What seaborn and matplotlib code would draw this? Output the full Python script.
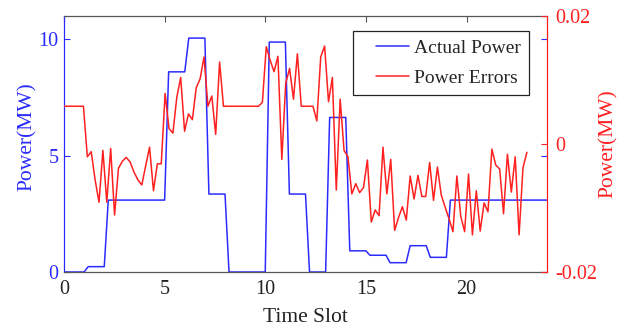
import numpy as np
import pandas as pd
import matplotlib
matplotlib.use("Agg")
import matplotlib.pyplot as plt
import seaborn as sns
from matplotlib.legend_handler import HandlerLine2D
from matplotlib.lines import Line2D

# Hourly actual power (MW); each value holds for its one-hour time slot
actual_power_hourly = [0.0, 0.23, 3.09, 3.09, 3.09, 8.60, 10.05, 3.35, 0.0, 0.0,
                       9.88, 3.35, 0.0, 6.64, 0.91, 0.72, 0.40, 1.13, 0.63, 3.09,
                       3.09, 3.09, 3.09, 3.09]

# Power error readings (MW), 120 samples spread over slots 0-23
power_errors = [
    0.0059, 0.0059, 0.0059, 0.0059, 0.0059, 0.0059, -0.0020, -0.0012, -0.0056, -0.0091,
    -0.0010, -0.0091, -0.0007, -0.0111, -0.0038, -0.0027, -0.0021, -0.0028, -0.0044, -0.0056,
    -0.0064, -0.0034, -0.0005, -0.0073, -0.0031, -0.0031, 0.0079, 0.0024, 0.0017, 0.0073,
    0.0104, 0.0020, 0.0047, 0.0038, 0.0088, 0.0102, 0.0136, 0.0059, 0.0075, 0.0015,
    0.0128, 0.0059, 0.0059, 0.0059, 0.0059, 0.0059, 0.0059, 0.0059, 0.0059, 0.0059,
    0.0059, 0.0065, 0.0152, 0.0131, 0.0113, 0.0137, -0.0024, 0.0095, 0.0118, 0.0070,
    0.0141, 0.0059, 0.0059, 0.0059, 0.0059, 0.0036, 0.0136, 0.0153, 0.0066, 0.0104,
    -0.0072, 0.0070, -0.0010, -0.0020, -0.0078, -0.0062, -0.0076, -0.0068, -0.0025, -0.0122,
    -0.0103, -0.0112, -0.0005, -0.0078, -0.0024, -0.0135, -0.0115, -0.0098, -0.0119, -0.0050,
    -0.0086, -0.0049, -0.0082, -0.0082, -0.0029, -0.0088, -0.0036, -0.0080, -0.0099, -0.0117,
    -0.0137, -0.0050, -0.0113, -0.0137, -0.0047, -0.0142, -0.0073, -0.0136, -0.0092, -0.0106,
    -0.0008, -0.0033, -0.0039, -0.0109, -0.0016, -0.0075, -0.0020, -0.0142, -0.0037, -0.0013,
]

x_ticks = [0, 5, 10, 15, 20]
power_ticks = [0, 5, 10]
error_ticks = [-0.02, 0, 0.02]
error_tick_labels = ["-0.02", "0", "0.02"]

# Actual power sampled every 0.2 slot: a short ramp at each hour boundary
t_power = np.round(np.arange(0, 24.001, 0.2), 1)
p_power = np.concatenate([[actual_power_hourly[0]], np.repeat(actual_power_hourly, 5)])
power_df = pd.DataFrame({"t": t_power, "p": p_power})

err_df = pd.DataFrame({"t": np.linspace(0, 23, len(power_errors)), "e": power_errors})

sns.set_theme(style="white")
plt.rcParams["font.family"] = ["Liberation Serif", "DejaVu Serif"]
plt.rcParams["axes.unicode_minus"] = False

BLUE = "#2b2bff"
RED = "#ff2020"
GRAY = "#555555"

fig = plt.figure(figsize=(6.18, 3.27), dpi=100)
ax = fig.add_axes([64 / 618, 1 - 272 / 327, (547 - 64) / 618, (272 - 16) / 327])
ax2 = ax.twinx()

sns.lineplot(data=power_df, x="t", y="p", ax=ax, color=BLUE, linewidth=1.1,
             estimator=None, sort=False, label="Actual Power", legend=False)
sns.lineplot(data=err_df, x="t", y="e", ax=ax2, color=RED, linewidth=1.1,
             estimator=None, sort=False, label="Power Errors", legend=False)

ax.set_xlim(0, 24)
ax.set_ylim(0, 11)
ax2.set_ylim(-0.02, 0.02)

ax.set_xticks(x_ticks)
ax.set_yticks(power_ticks)
ax2.set_yticks(error_ticks)
ax2.set_yticklabels(error_tick_labels)

ax.tick_params(axis="x", direction="in", top=True, length=4, width=0.8,
               color=GRAY, labelcolor="#222222", labelsize=14.5, pad=6)
ax.tick_params(axis="y", direction="in", right=True, length=4, width=0.8,
               colors=BLUE, labelsize=14.5, pad=4)
ax2.tick_params(axis="y", direction="in", length=4, width=0.8,
                colors=RED, labelsize=14.5, pad=6)

ax.set_xlabel("Time Slot", fontsize=15.5, color="#222222", labelpad=6)
ax.set_ylabel("Power(MW)", fontsize=15.5, color=BLUE)
ax2.set_ylabel("Power(MW)", fontsize=15.5, color=RED, labelpad=1)
ax.yaxis.set_label_coords(-27 / 483, 0.53)

for s in ("top", "bottom"):
    ax.spines[s].set_color(GRAY)
    ax.spines[s].set_linewidth(0.9)
ax.spines["left"].set_color(BLUE)
ax.spines["left"].set_linewidth(0.9)
ax.spines["right"].set_visible(False)
ax2.spines["right"].set_color(RED)
ax2.spines["right"].set_linewidth(0.9)
for s in ("left", "top", "bottom"):
    ax2.spines[s].set_visible(False)

h1, l1 = ax.get_legend_handles_labels()
h2, l2 = ax2.get_legend_handles_labels()
leg = ax2.legend(h1 + h2, l1 + l2, loc="upper right",
                 bbox_to_anchor=((529 - 64) / 483, (272 - 31) / 256),
                 borderaxespad=0, fontsize=14, frameon=True, fancybox=False,
                 edgecolor="#222222", framealpha=1, handlelength=2.45,
                 handletextpad=0.26, labelspacing=0.62, borderpad=0.43,
                 handler_map={Line2D: HandlerLine2D(xpad=0.76)})
leg.get_frame().set_linewidth(0.9)

fig.savefig("out.png", dpi=100)
